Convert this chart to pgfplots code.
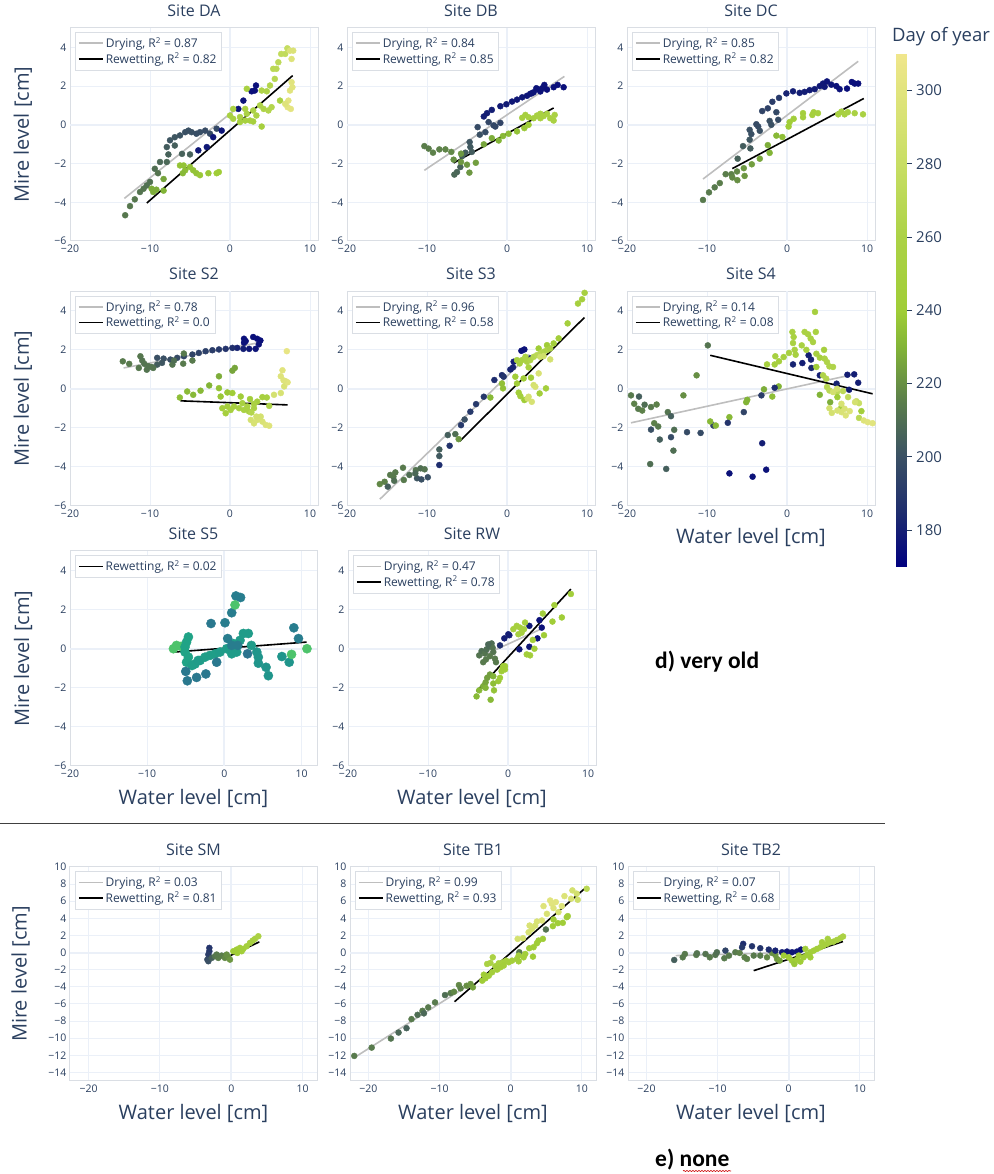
\documentclass[border=0pt]{standalone}
\usepackage{fontspec}
\setmainfont{Open Sans}
\newfontfamily\calibri{Carlito}
\usepackage{pgfplots}
\pgfplotsset{compat=1.18}
\usetikzlibrary{decorations.pathmorphing}

\definecolor{pb}{RGB}{42,63,95}
\definecolor{gridc}{RGB}{235,240,248}
\definecolor{framec}{RGB}{218,222,228}
\definecolor{dryc}{RGB}{190,190,190}

\pgfplotsset{
 colormap={doy}{rgb255(0cm)=(0,0,128) rgb255(15cm)=(30,45,110) rgb255(30cm)=(58,80,100) rgb255(45cm)=(90,125,75) rgb255(60cm)=(130,180,55) rgb255(70cm)=(160,205,55) rgb255(90cm)=(172,210,70) rgb255(110cm)=(200,222,100) rgb255(130cm)=(225,228,125) rgb255(140cm)=(240,230,140)},
 base/.style={scale only axis, width=248pt, height=214pt, xmin=-20, xmax=11, ymin=-6, ymax=5,
  xtick={-20,-10,0,10}, xticklabels={−20,−10,0,10},
  ytick={-6,-4,-2,0,2,4}, yticklabels={−6,−4,−2,0,2,4},
  grid=major, major grid style={gridc, line width=1pt},
  axis line style={framec, line width=1pt},
  major tick length=0pt,
  tick label style={font=\fontsize{10.5}{12}\selectfont, text=pb},
  xticklabel style={yshift=-0.5pt},
  title style={font=\fontsize{16}{18}\selectfont, text=pb, yshift=2pt},
  label style={font=\fontsize{20}{22}\selectfont, text=pb},
  legend style={at={(0.02,0.98)}, anchor=north west, draw=framec, font=\fontsize{12}{14}\selectfont, text=pb, cells={anchor=west}, row sep=0pt, inner sep=3pt},
  legend image code/.code={\draw[##1, line width=1.6pt] (0pt,0pt) -- (24pt,0pt);},
  colormap name=doy, point meta min=170, point meta max=310,
  extra x ticks={0}, extra y ticks={0}, extra x tick labels={}, extra y tick labels={},
  extra tick style={grid=major, major grid style={gridc, line width=2pt}},
 },
 rowfour/.style={xmin=-22.6, xmax=12, ymin=-15, ymax=10, ytick={-14,-12,...,10},
  yticklabels={−14,−12,−10,−8,−6,−4,−2,0,2,4,6,8,10}},
 ylab/.style={ylabel={Mire level [cm]}, ylabel style={at={(axis description cs:-0.19,0.5)}, anchor=center}},
 xlab/.style={xlabel={Water level [cm]}, xlabel style={at={(axis description cs:0.5,0)}, anchor=center, yshift=-32pt}},
 pts/.style={scatter, only marks, mark=*, mark size=3pt, scatter src=explicit, forget plot,
  scatter/use mapped color={draw=mapped color, fill=mapped color}},
 dry/.style={dryc, line width=1.6pt, no marks},
 wet/.style={black, line width=1.6pt, no marks},
}

\begin{document}
\begin{tikzpicture}
\useasboundingbox (0pt,0pt) rectangle (993pt,1174pt);

% ---------------- Site DA
\begin{axis}[base, ylab, at={(70pt,933pt)}, anchor=south west, height=213pt, title={Site DA}]
\addplot[pts] table[meta=d]{
x y d
-13.1 -4.67 213
-12.5 -4.2 213
-11.9 -3.85 213
-11.25 -3.47 212
-10.8 -3.3 212
-10.4 -3.13 211
-10 -2.95 211
-9.4 -2.27 210
-9.0 -2.5 212
-8.75 -1.92 208
-7.9 -1.92 208
-7.7 -1.53 206
-7.9 -1.15 204
-6.9 -1.07 205
-6.0 -1.5 206
-5.0 -1.53 206
-7.5 -0.8 202
-6.9 -0.64 202
-6.25 -0.55 201
-5.6 -0.38 200
-5.2 -0.3 200
-4.8 -0.38 200
-4.2 -0.46 199
-3.75 -0.38 199
-3.1 -0.3 198
-2.5 -0.46 198
-1.67 -0.2 197
-3.96 -1.32 178
-2.9 -1.15 178
-2.1 -0.64 177
-1.04 -0.3 177
1.04 0.82 176
1.67 1.25 176
2.7 1.73 175
3.1 1.77 175
3.25 2.03 175
-9.8 -3.3 228
-9.6 -3.47 228
-9.2 -3.35 228
-8.3 -3.4 230
-8.3 -2.8 226
-6.25 -2.1 236
-5.8 -2.1 236
-5.6 -2.35 234
-5.0 -2.18 236
-4.6 -2.35 236
-4.2 -2.5 236
-3.75 -2.6 238
-5.9 -2.5 232
-2.7 -2.5 238
-1.67 -2.5 240
-1.4 -2.44 240
0.4 0.82 255
0 0.48 255
0.4 0.31 255
1.25 0.4 258
2.1 0.57 258
1.9 0.82 258
2.9 0.74 260
3.3 0.48 260
3.75 1.0 262
4.2 0.82 262
4.8 0.74 265
5.2 0.91 265
2.9 0.17 250
3.96 -0.09 250
2.1 1.86 255
3.96 1.77 262
4.6 1.73 262
5.0 2.03 265
5.6 2.37 268
5.4 2.89 270
5.8 2.89 270
6.04 3.23 272
6.4 3.66 275
6.9 3.66 275
7.17 3.95 278
6.25 1.25 255
1.25 0.14 252
1.9 0.22 252
2.5 0.22 252
7.5 3.83 295
7.9 3.83 295
7.7 3.4 298
7.7 2.2 300
7.8 1.94 300
7.5 1.77 300
7.3 1.25 302
7.2 0.91 302
7.6 0.82 302
6.9 1.08 298
};
\addplot[dry] coordinates {(-13.2,-3.8) (1,0.9)};
\addlegendentry{Drying, R\textsuperscript{2} = 0.87}
\addplot[wet] coordinates {(-10.4,-4.04) (7.83,2.54)};
\addlegendentry{Rewetting, R\textsuperscript{2} = 0.82}
\end{axis}

% ---------------- Site DB
\begin{axis}[base, at={(347pt,933pt)}, anchor=south west, height=213pt, title={Site DB}]
\addplot[pts] table[meta=d]{
x y d
-2.9 0.43 180
-2.5 0.6 180
-1.9 0.77 180
-0.83 0.96 179
-0.08 1.06 179
0.63 1.2 178
1.25 1.3 178
1.9 1.42 178
2.5 1.5 177
2.9 1.6 177
3.33 1.68 177
3.67 1.89 176
3.96 1.82 176
4.4 1.89 176
4.67 2.06 176
5 1.82 175
5.83 1.94 175
6.33 2.06 175
7.08 1.94 175
4.17 1.72 176
3.1 1.63 177
-3.67 -0.12 198
-3.4 -0.51 200
-2.7 -0.38 198
-2.3 0.14 196
-1.67 -0.03 196
-1.46 -0.09 196
-0.83 0.1 195
-4.67 -0.89 202
-4.58 -1.15 203
-4.4 -1.4 204
-5.2 -1.44 204
-5.6 -1.61 205
-5.83 -2.18 206
-6.25 -2.44 207
-6.58 -2.57 208
-10.33 -1.1 215
-9.8 -1.23 215
-9.25 -1.44 216
-8.46 -1.27 216
-7.7 -1.27 217
-6.96 -1.4 218
-6.67 -1.8 220
-5.75 -1.92 222
-5.75 -1.49 222
-5 -2.06 222
-4.7 -2.47 222
-3.9 -1.96 224
-2.9 -1.01 226
-1.9 -0.69 228
-1.04 -0.81 230
-0.5 -0.58 232
0.2 -0.46 234
1.25 -0.34 236
2.17 -0.17 238
2.7 0 240
1.9 0.36 250
2.3 0.51 250
2.7 0.39 252
3.33 0.34 252
3.75 0.48 254
4.17 0.57 254
4.58 0.45 255
5 0.57 255
5.4 0.34 256
5.83 0.22 256
5.96 0.51 256
4.17 0.34 254
};
\addplot[dry] coordinates {(-10.33,-2.35) (7.17,2.5)};
\addlegendentry{Drying, R\textsuperscript{2} = 0.84}
\addplot[wet] coordinates {(-6.67,-1.97) (5.83,0.87)};
\addlegendentry{Rewetting, R\textsuperscript{2} = 0.85}
\end{axis}

% ---------------- Site DC
\begin{axis}[base, at={(627pt,933pt)}, anchor=south west, height=213pt, title={Site DC}]
\addplot[pts] table[meta=d]{
x y d
-0.08 1.62 182
0.75 1.73 180
1.58 1.65 180
2.2 1.7 180
2.83 1.79 179
3.46 1.84 179
4.1 2.0 178
4.5 2.13 178
5 2.24 177
5.54 2.07 177
6.17 2.0 176
6.58 1.84 176
7.5 1.87 175
8.1 2.21 175
8.46 2.13 175
8.9 2.13 175
4.7 1.96 178
-1 1.39 190
-1.83 1.19 192
-2.4 0.85 194
-3.1 0.71 195
-3.83 0.03 198
-3.6 -0.09 198
-3.4 -0.31 200
-4.67 -0.26 200
-4.46 -0.48 200
-4.67 -0.77 202
-4.58 -1.22 204
-5.5 -1.1 204
-6.17 -1.75 206
-2.17 0.2 200
-1.96 0 200
-1.33 0.65 197
-1.1 0.26 198
-10.5 -3.88 214
-9.75 -3.49 214
-9.04 -3.23 214
-8.4 -3.01 215
-7.67 -2.55 215
-6.96 -2.55 216
-6.83 -2.72 218
-6.2 -2.86 220
-6.25 -2.41 218
-5.3 -2.64 222
-5.4 -2.24 222
-4.4 -2.04 224
-3.4 -1.75 226
-2.4 -1.05 228
-2.17 -1.45 230
-1.33 -0.56 232
-0.58 -0.63 234
0.2 -0.09 240
0.33 0.14 242
0.83 0.31 244
2 0.6 248
2 0.39 248
3.17 0.51 250
3.33 0.65 250
3.87 0.6 252
6.4 0.54 254
6.8 0.68 254
7.2 0.54 255
7.6 0.65 255
8.46 0.6 256
9.5 0.54 256
};
\addplot[dry] coordinates {(-10.5,-2.8) (8.9,3.28)};
\addlegendentry{Drying, R\textsuperscript{2} = 0.85}
\addplot[wet] coordinates {(-6.83,-2.26) (9.6,1.36)};
\addlegendentry{Rewetting, R\textsuperscript{2} = 0.82}
\end{axis}

% ---------------- Site S2
\begin{axis}[base, ylab, at={(70pt,668.5pt)}, anchor=south west, title={Site S2}]
\addplot[pts] table[meta=d]{
x y d
1.75 2.57 175
1.96 2.45 175
1.75 2.36 176
2.9 2.66 175
3.4 2.57 175
3.8 2.48 175
3.6 2.28 176
3.2 2.05 177
2.4 2.05 178
1.67 2.05 180
0.9 2.1 182
0.3 2.1 186
-0.54 2.05 188
-1.38 2.02 190
-2.2 1.98 192
-3.05 1.93 193
-3.9 1.84 194
-4.7 1.76 195
-5.77 1.67 196
-6.6 1.59 198
-7.45 1.5 199
-8.3 1.55 200
-9.1 1.59 200
-8.5 1.33 202
-9.1 1.24 204
-13.4 1.41 214
-12.6 1.28 214
-11.2 1.67 213
-10.97 1.45 212
-10.7 1.28 212
-11.4 1.07 213
-10.2 1.16 212
-9.6 1.07 212
-10.4 0.98 212
-9.8 1.12 212
-7.2 1.24 212
-7 1.45 210
-5.85 1.29 214
-5.77 1.81 214
-4.7 1.45 214
0.3 0.93 226
0.6 1.07 226
-1.38 0.64 228
-2.6 0.17 230
-3.68 -0.1 232
-4.6 -0.31 232
-5.35 -0.14 233
-6.27 -0.45 234
-1.38 0.03 236
-0.33 -0.19 238
-1.17 -0.4 238
0.3 -0.22 240
1.34 -0.4 242
2.5 -0.53 244
-0.96 -1.0 248
-0.33 -0.91 250
0.08 -1.09 252
0.5 -0.91 252
1.13 -1.0 254
1.75 -1.09 255
2.38 -1.17 256
3.0 -1.0 258
3.4 -0.66 250
4.05 -0.43 250
4.6 -0.45 252
1.55 -0.74 254
2.17 -0.91 256
-0.54 -1.26 250
3.0 -0.78 258
4.9 -0.88 262
2.67 -1.22 265
2.6 -1.6 290
3 -1.78 292
3.4 -1.6 292
4.05 -1.69 294
4.47 -1.86 296
4.9 -1.9 298
3.84 -1.43 290
3.3 -1.43 288
5.5 -0.31 290
6.35 -0.22 292
6.77 0.12 294
6.98 0.38 296
6.35 0.64 298
6.56 0.95 300
7.1 1.93 305
7.2 0.33 300
6.7 0.43 298
};
\addplot[dry] coordinates {(-13.3,1.07) (4.05,2.4)};
\addlegendentry{Drying, R\textsuperscript{2} = 0.78}
\addplot[wet] coordinates {(-6.2,-0.62) (7.2,-0.83)};
\addlegendentry{Rewetting, R\textsuperscript{2} = 0.0}
\end{axis}

% ---------------- Site S3
\begin{axis}[base, at={(347pt,668.5pt)}, anchor=south west, title={Site S3}]
\addplot[pts] table[meta=d]{
x y d
-15.9 -4.9 218
-15.3 -4.78 216
-14.9 -5.03 205
-14.6 -4.43 214
-14.2 -4.52 214
-13.96 -4.3 214
-14.1 -4.73 210
-13 -4.06 214
-12.9 -4.69 214
-12.2 -4.43 210
-11.4 -4.18 212
-11.25 -4.6 202
-10.8 -4.09 210
-10.7 -4.66 200
-10.3 -4.14 212
-9.9 -4.55 200
-11.46 -4.35 208
-8.46 -3.12 205
-8.46 -3.46 203
-8.46 -3.92 185
-7.17 -2.93 188
-7.4 -2.38 205
-6.46 -2.33 210
-5.75 -1.87 190
-5.3 -1.58 200
-4.58 -1.18 190
-3.87 -0.79 190
-2.9 -0.41 190
-1.58 0.45 185
-0.63 0.7 185
-0.42 0.62 188
0.42 0.99 182
0.75 1.1 182
0.83 1.39 180
1.8 1.95 176
2.17 2.02 176
2.9 1.56 180
-6.04 -2.59 222
-0.63 0.27 235
-0.5 0.02 235
-2.08 -0.45 232
1.04 0.62 242
1.25 0.27 242
2.08 0.53 242
3 0.57 244
1.46 -0.2 244
1.67 -0.38 245
2.17 -0.58 240
4.08 -0.24 245
4.87 0.02 248
3.96 2.07 240
5 2.24 242
5.83 2.33 244
6.46 2.59 246
7.58 3.36 248
8.87 4.38 250
9.38 4.6 250
9.7 4.93 252
1.25 1.47 250
1.58 1.3 252
1.87 1.47 255
2.5 1.39 258
2.9 1.47 262
3.33 1.64 266
3.75 1.73 270
4.17 1.82 270
4.58 1.9 265
5 1.99 262
5.4 2.07 258
2.7 1.1 255
2.3 1.64 260
3.33 0.19 290
3.54 0.1 292
3.96 0.79 294
5.4 1.51 290
2.58 -0.5 288
3.1 -0.67 292
2.7 -0.41 290
4.17 1.64 285
4.58 1.68 285
};
\addplot[dry] coordinates {(-15.9,-5.68) (2.8,1.76)};
\addlegendentry{Drying, R\textsuperscript{2} = 0.96}
\addplot[wet] coordinates {(-5.9,-2.69) (9.67,3.66)};
\addlegendentry{Rewetting, R\textsuperscript{2} = 0.58}
\end{axis}

% ---------------- Site S4
\begin{axis}[base, xlab, at={(627pt,668.5pt)}, anchor=south west, title={Site S4}]
\addplot[pts] table[meta=d]{
x y d
-19.5 -0.34 214
-19.1 -0.77 216
-18.5 -0.4 205
-18.6 -1.03 214
-18.1 -1.12 216
-17.8 -0.82 210
-17 -0.94 214
-16.3 -0.81 216
-16.6 -1.77 216
-16.1 -1.94 214
-17 -2.1 200
-15.9 -2.61 205
-17.1 -3.87 210
-15.1 -4.12 205
-14.9 -1.2 212
-14.5 -1.41 205
-14.5 -2.49 198
-14.1 -2.11 210
-14.2 -3.18 210
-12.95 -0.34 220
-12.5 -2.23 198
-10.8 -2.27 198
-11.3 0.69 220
-9.9 2.23 212
-9.2 -1.89 195
-9.6 -1.68 232
-8.9 -1.89 232
-7.2 -1.46 232
-5.1 -0.69 230
-4.97 -0.57 230
-2.88 -0.03 228
-1.84 -0.4 234
-1.04 0.12 230
-7.4 -1.75 188
-5.4 -1.2 195
-3.2 -0.34 192
-1.54 0.05 185
-7.2 -4.35 176
-4.3 -4.52 176
-3.1 -2.8 180
-2.6 -4.16 176
0.75 1.25 182
1.92 1.32 180
2.7 1.72 180
3 1.5 182
3.05 1.07 184
4.1 0.69 180
7.55 0.72 180
8.4 0.74 180
8.9 0.31 180
7.76 -0.05 180
6.2 0.26 182
-2.5 1.25 250
-1.46 1.67 252
-1 1.41 250
-1.54 1.25 250
-0.42 1.63 252
0.25 1.84 252
0.67 2.92 255
0.83 2.66 255
0.75 2.35 255
0.96 2.0 255
1.08 1.75 252
1.84 2.23 255
2.2 2.92 258
2.63 2.8 258
2.96 2.58 255
3.25 2.4 256
3.6 2.92 255
3.5 3.95 250
2.42 2.0 252
3.67 1.8 252
4.1 1.6 250
4.63 2.0 250
4.7 1.55 260
5 1.37 262
5.3 1.15 262
5.75 1.12 262
3.67 1.12 240
4.5 0.69 262
4.9 0.52 265
5 0.09 268
5.3 -0.09 270
6.25 -0.17 272
7 -0.12 272
7.63 -0.43 275
8.67 -0.64 278
9 -0.74 280
9.3 -1.15 245
9 -1.5 270
4.1 -0.31 230
5.4 -0.69 228
6.3 -0.43 240
6.8 -0.95 250
5.3 -1.0 288
5.6 -1.24 290
6.3 -1.12 292
6.8 -0.77 292
7.2 -1.03 294
7.34 -1.37 296
7.84 -1.15 296
6.8 -1.2 294
8.5 -0.69 290
9.6 -1.63 298
10.7 -1.77 300
10.1 -1.72 300
5.75 -0.17 288
6.25 0 288
};
\addplot[dry] coordinates {(-19.5,-1.75) (8.7,0.77)};
\addlegendentry{Drying, R\textsuperscript{2} = 0.14}
\addplot[wet] coordinates {(-9.6,1.72) (10.7,-0.26)};
\addlegendentry{Rewetting, R\textsuperscript{2} = 0.08}
\end{axis}

% ---------------- Site S5
\begin{axis}[base, ylab, xlab, at={(70pt,408pt)}, anchor=south west, width=247pt, height=215pt, xmax=12, title={Site S5},
  colormap name=viridis, point meta min=0, point meta max=1]
\addplot[pts, mark size=4.6pt] table[meta=d]{
x y d
-6.6 0 0.72
-6.2 0.17 0.72
-5.6 0.12 0.72
-5.1 0.09 0.58
-4.66 0.6 0.58
-4.9 0.34 0.58
-5.1 -0.17 0.58
-4.66 -0.43 0.58
-4.9 -0.69 0.58
-4.2 -0.86 0.56
-3.8 -0.78 0.56
-3.15 -0.6 0.56
-2.5 -0.43 0.56
-1.86 -0.34 0.56
-1.2 -0.26 0.56
-0.56 -0.17 0.55
0.3 0 0.55
0.95 -0.26 0.55
1.6 -0.17 0.55
2.03 0.43 0.55
2.46 0.78 0.55
3.1 0.78 0.55
3.5 0.17 0.55
4.4 -0.43 0.52
4.4 -0.74 0.52
5.4 -0.95 0.52
5.7 -1.38 0.52
7.45 -0.4 0.52
8.4 -0.69 0.52
-3.4 -0.6 0.55
1.17 0.26 0.55
4.2 -0.17 0.52
-5.0 -1.16 0.4
-4.8 -1.64 0.4
-3.6 -1.47 0.4
-2.4 -1.29 0.4
-1.73 1.29 0.4
-1.0 -0.69 0.4
0.08 1.33 0.42
0.43 0.52 0.42
0.95 1.84 0.42
1.5 2.7 0.42
2.1 2.62 0.42
0.95 0.17 0.42
1.73 0.17 0.42
3.0 -0.26 0.38
9.0 1.07 0.42
9.6 0.52 0.42
1.38 2.24 0.72
8.7 -0.29 0.72
10.7 0 0.72
};
\addplot[wet] coordinates {(-6.5,-0.17) (10.66,0.34)};
\addlegendentry{Rewetting, R\textsuperscript{2} = 0.02}
\end{axis}

% ---------------- Site RW
\begin{axis}[base, xlab, at={(348pt,408pt)}, anchor=south west, height=215pt, title={Site RW}]
\addplot[pts] table[meta=d]{
x y d
-3.6 -0.34 212
-3.3 -0.12 210
-2.9 -0.24 212
-2.67 -0.03 210
-2.34 0.14 208
-2.05 0.27 210
-1.92 0.05 212
-1.84 -0.17 212
-2.26 -0.38 214
-1.63 -0.51 214
-1.5 -0.69 214
-3.1 -0.69 214
-2.76 -0.55 214
-2.47 0.22 208
-1.0 0.17 185
-0.46 0.53 180
0.17 0.69 180
1.42 -0.03 178
2.67 0.1 178
2.67 1.17 178
3.68 0.53 176
3.93 1.46 176
4.22 1.08 176
0.04 0.74 180
-3.93 -2.44 232
-3.6 -2.13 232
-3.1 -1.92 228
-2.8 -1.72 226
-2.6 -1.49 224
-2.26 -1.32 224
-1.84 -1.41 230
-2.17 -2.61 232
-2.8 -2.0 230
-1.84 -1.78 234
-1.75 -2.13 236
-1.21 -1.66 238
-1.0 -1.49 240
-0.8 -1.15 240
-0.59 -0.89 242
-0.38 -1.06 242
-0.67 -0.98 240
-0.38 -0.89 240
0.67 1.0 250
1.09 1.17 250
1.5 1.08 250
1.7 0.82 252
2.13 1.34 250
2.0 1.0 252
1.3 0.74 252
2.34 -0.29 245
2.76 -0.34 245
3.1 0.45 245
3.3 0 245
4.35 1.8 245
4.5 0.69 240
5.56 1.39 242
5.8 2.23 245
6.73 1.6 240
7.86 2.8 245
};
\addplot[dry] coordinates {(-3.7,-0.45) (4.1,1.0)};
\addlegendentry{Drying, R\textsuperscript{2} = 0.47}
\addplot[wet] coordinates {(-3.93,-2.18) (7.86,3.05)};
\addlegendentry{Rewetting, R\textsuperscript{2} = 0.78}
\end{axis}

% ---------------- Site SM
\begin{axis}[base, rowfour, xlab, ylab, ylabel style={at={(axis description cs:-0.2,0.5)}}, at={(70pt,93pt)}, anchor=south west, width=247pt, title={Site SM}]
\addplot[pts] table[meta=d]{
x y d
-3.08 0.55 188
-3.08 0.16 190
-3.22 -0.23 192
-3.36 -0.82 198
-3.22 -1.01 200
-2.75 -0.62 205
-2.29 -0.43 212
-1.82 -0.62 215
-1.35 -0.35 215
-0.89 -0.62 218
-0.42 -0.55 220
-0.19 -0.82 222
-2.05 -0.23 214
-0.65 -0.23 220
0.28 0.16 240
0.75 0.35 242
1.21 0.55 245
1.68 0.43 246
2.15 0.74 248
2.61 1.13 250
2.99 1.4 252
3.31 1.6 254
3.78 1.91 258
0.84 -0.04 240
1.45 0.16 244
};
\addplot[dry] coordinates {(-3.36,-0.55) (-0.4,-0.55)};
\addlegendentry{Drying, R\textsuperscript{2} = 0.03}
\addplot[wet] coordinates {(-1.12,-0.74) (3.92,1.25)};
\addlegendentry{Rewetting, R\textsuperscript{2} = 0.81}
\end{axis}

% ---------------- Site TB1
\begin{axis}[base, rowfour, xlab, at={(350pt,93pt)}, anchor=south west, width=246pt, title={Site TB1}]
\addplot[pts] table[meta=d]{
x y d
-22 -12.07 214
-19.55 -11.1 214
-16.85 -10.04 212
-15.77 -9.34 208
-14.65 -8.83 206
-13.95 -7.77 214
-13.1 -7.27 210
-12.4 -6.8 214
-12.2 -7.1 208
-11.6 -6.4 214
-10.64 -5.82 214
-9.24 -4.96 210
-8.45 -4.73 214
-7.98 -4.57 218
-7.28 -3.79 218
-7.05 -4.18 216
-6.2 -3.87 220
-5.65 -3.67 222
-5.32 -4.06 225
4.95 2.7 212
1.21 0.04 214
-4.0 -3.28 240
-3.78 -2.58 240
-3.55 -3.0 242
-3.31 -1.33 255
-2.85 -1.21 258
-2.52 -0.55 258
-2.15 -1.6 250
-1.68 -1.25 252
-1.45 -1.72 248
-1.07 -1.13 250
-0.65 -0.94 250
-0.28 -1.13 248
0.19 -0.94 246
0.89 -0.74 245
1.12 -0.35 245
2.05 -0.16 244
2.61 0.51 242
3.22 0.63 242
3.13 -0.47 240
3.69 1.09 240
3.92 1.41 240
4.53 1.6 240
5.93 3.09 240
6.02 3.87 240
6.63 3.44 242
7.33 3.48 240
7.89 4.14 242
8.03 4.26 242
-3.08 -2.7 244
-2.61 -2.3 246
-1.91 -1.99 246
-0.98 -1.52 246
1.12 -1.02 245
1.82 -0.55 245
0.98 1.6 290
1.73 1.68 290
2.52 2.38 292
2.99 2.77 292
2.66 3.16 294
3.69 3.63 294
4.39 3.75 296
4.62 5.43 298
5.55 6.09 300
5.79 5.7 300
6.02 5.2 298
6.35 5.9 300
7.19 5.43 296
7.56 6.6 296
8.49 6.29 294
8.68 7.27 290
9.29 6.88 288
9.43 6.17 285
10.69 7.46 270
3.45 3.16 292
5.09 4.53 294
6.72 4.73 292
};
\addplot[dry] coordinates {(-22,-12.27) (-5.32,-3.48)};
\addlegendentry{Drying, R\textsuperscript{2} = 0.99}
\addplot[wet] coordinates {(-7.9,-5.74) (10.55,7.58)};
\addlegendentry{Rewetting, R\textsuperscript{2} = 0.93}
\end{axis}

% ---------------- Site TB2
\begin{axis}[base, rowfour, xlab, at={(628pt,93pt)}, anchor=south west, width=246pt, title={Site TB2}]
\addplot[pts] table[meta=d]{
x y d
-16.1 -0.86 205
-14.9 -0.55 214
-14.6 -0.16 214
-13.0 -0.27 214
-12.9 -0.08 212
-11.7 -0.16 212
-11.1 -0.55 214
-10.3 -0.27 212
-10.1 0.04 210
-9.05 -0.66 214
-8.9 0.23 195
-8.4 -0.35 214
-7.5 0.04 214
-6.9 -0.04 216
-6.2 -0.55 216
-5.86 -0.74 216
-4.92 -0.35 214
-4 -0.35 214
-3.05 -0.55 218
-1.88 -0.27 222
-1.64 -0.74 222
-1.27 -0.94 225
-2.34 -0.04 220
-6.4 1.02 185
-5.16 0.74 188
-4 0.51 188
-2.8 0.35 185
-1.88 0.23 182
-0.94 0.04 180
-0.23 0.12 178
0.47 0.04 178
1.17 0.12 178
1.73 0.35 176
-6.56 0.62 190
-0.7 -0.35 240
0 -0.55 240
0.47 -0.94 240
0.8 -1.33 238
1.17 -0.82 240
1.64 -1.05 240
2.1 -0.55 242
2.58 -0.27 242
3.05 0.04 244
3.52 0.23 245
3.98 0.43 246
4.45 0.62 248
4.92 0.82 250
5.39 1.02 250
5.86 1.21 252
6.33 1.29 254
6.8 1.48 255
7.27 1.68 256
7.64 1.88 258
2.34 0.43 244
4.69 1.21 250
5.49 1.6 252
1.41 -0.35 242
3.05 -0.55 242
};
\addplot[dry] coordinates {(-15.9,-0.35) (1.88,0.04)};
\addlegendentry{Drying, R\textsuperscript{2} = 0.07}
\addplot[wet] coordinates {(-4.92,-2.11) (7.64,1.29)};
\addlegendentry{Rewetting, R\textsuperscript{2} = 0.68}
\end{axis}

% ---------------- colour bar
\begin{axis}[scale only axis, at={(896pt,607.3pt)}, anchor=south west, width=10.7pt, height=512.7pt,
  xmin=0, xmax=1, ymin=170, ymax=310, enlargelimits=false,
  colormap name=doy, point meta min=170, point meta max=310,
  axis x line=none, axis y line*=right, axis line style={draw=none},
  ytick={180,200,220,240,260,280,300}, yticklabels={180,200,220,240,260,280,300},
  tick align=outside, major tick length=5pt,
  tick style={pb, line width=0.8pt},
  yticklabel style={font=\fontsize{15}{17}\selectfont, text=pb, xshift=1pt}]
\addplot[surf, shader=interp, point meta=y, mesh/rows=2, mesh/cols=2] coordinates {(0,170) (1,170) (0,310) (1,310)};
\end{axis}
\node[anchor=west, text=pb, font=\fontsize{18.5}{21}\selectfont, inner sep=0pt] at (892pt,1137pt) {Day of year};

% ---------------- annotations
\draw[black!75, line width=0.8pt] (0pt,351pt) -- (885pt,351pt);
\node[anchor=west, font=\calibri\bfseries\fontsize{23.5}{26}\selectfont, inner sep=0pt] at (655pt,512pt) {d) very old};
\node[anchor=west, font=\calibri\bfseries\fontsize{23.5}{26}\selectfont, inner sep=0pt] at (655pt,14pt) {e) none};
\draw[red!80!black, line width=0.6pt, decorate, decoration={snake, amplitude=0.6pt, segment length=3pt}] (683pt,3pt) -- (731pt,3pt);
\end{tikzpicture}
\end{document}
